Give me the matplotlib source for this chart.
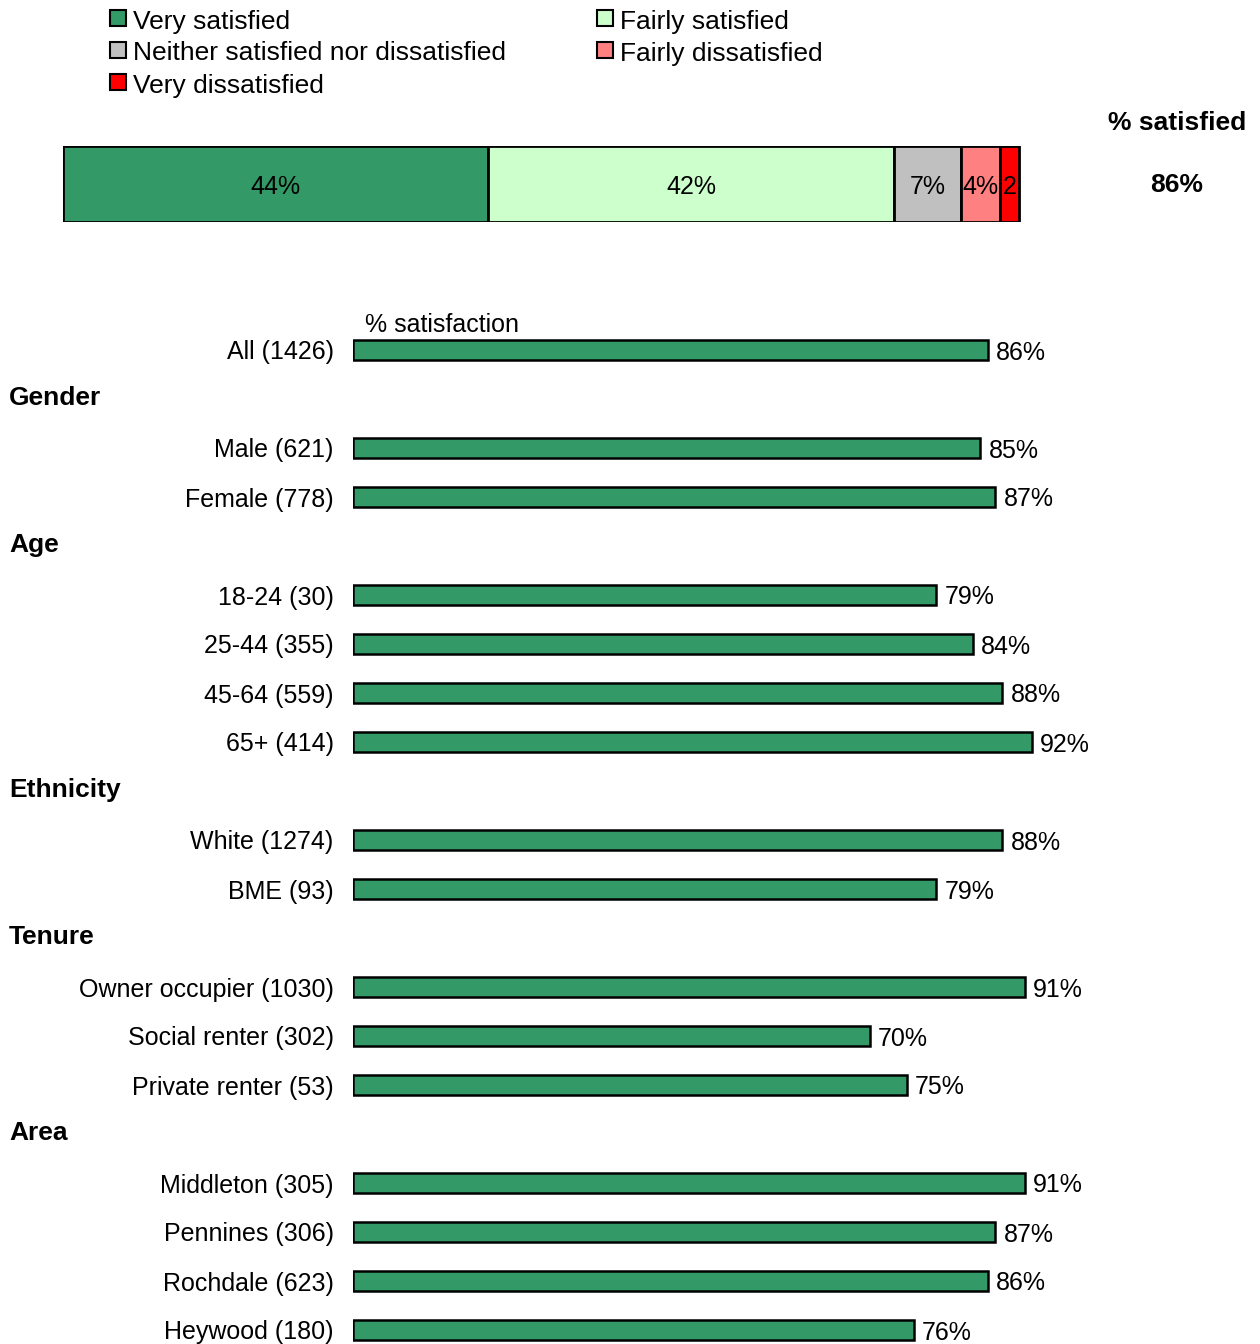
import matplotlib.pyplot as plt
from matplotlib.patches import Rectangle

plt.rcParams['font.family'] = ['Liberation Sans', 'DejaVu Sans']

# overall satisfaction breakdown
levels = ['Very satisfied', 'Fairly satisfied', 'Neither satisfied nor dissatisfied',
          'Fairly dissatisfied', 'Very dissatisfied']
level_vals = [44, 42, 7, 4, 2]
level_text = ['44%', '42%', '7%', '4%', '2']
level_cols = ['#339966', '#CCFFCC', '#C0C0C0', '#FF8080', '#FF0000']
pct_satisfied = 86

# % satisfaction by group
groups = ['All (1426)', 'Gender', 'Male (621)', 'Female (778)',
          'Age', '18-24 (30)', '25-44 (355)', '45-64 (559)', '65+ (414)',
          'Ethnicity', 'White (1274)', 'BME (93)',
          'Tenure', 'Owner occupier (1030)', 'Social renter (302)', 'Private renter (53)',
          'Area', 'Middleton (305)', 'Pennines (306)', 'Rochdale (623)', 'Heywood (180)']
sat = [86, None, 85, 87,
       None, 79, 84, 88, 92,
       None, 88, 79,
       None, 91, 70, 75,
       None, 91, 87, 86, 76]

W, H = 1260, 1344
fig = plt.figure(figsize=(W / 100, H / 100), dpi=100)

def px(x0, y0, x1, y1):
    return [x0 / W, 1 - y1 / H, (x1 - x0) / W, (y1 - y0) / H]

# legend, laid out in two columns
leg_pos = [(110, 18), (597, 18), (110, 50), (597, 50), (110, 82)]
for (lx, ly), name, col in zip(leg_pos, levels, level_cols):
    fig.add_artist(Rectangle((lx / W, 1 - (ly + 8) / H), 16 / W, 16 / H,
                             facecolor=col, edgecolor='black', lw=1.5,
                             transform=fig.transFigure))
    fig.text((lx + 23) / W, 1 - (ly + 1) / H, name, fontsize=19,
             va='center_baseline', ha='left')

# stacked bar
ax1 = fig.add_axes(px(63, 146, 1029, 222))
left = 0
for v, t, c in zip(level_vals, level_text, level_cols):
    ax1.barh(0, v, left=left, height=1, color=c, edgecolor='black', lw=2)
    ax1.text(left + v / 2, 0, t, ha='center', va='center_baseline', fontsize=18)
    left += v
ax1.set_xlim(0, 100)
ax1.set_ylim(-0.5, 0.5)
ax1.axis('off')

fig.text(1177 / W, 1 - 121 / H, '% satisfied', ha='center', va='center_baseline',
         fontsize=19, fontweight='bold')
fig.text(1177 / W, 1 - 183 / H, f'{pct_satisfied}%', ha='center', va='center_baseline',
         fontsize=19, fontweight='bold')

# group bars
ax2 = fig.add_axes(px(353, 330, 1091, 1344))
rows = list(range(len(groups)))
for r, g, v in zip(rows, groups, sat):
    if v is None:
        ax2.text(-344 / 7.38, r - 0.08, g, ha='left', va='center_baseline',
                 fontsize=19, fontweight='bold')
        continue
    ax2.barh(r, v, height=20 / 49, color='#339966', edgecolor='black', lw=1.8)
    ax2.annotate(f'{v}%', (v, r), xytext=(6, 0), textcoords='offset points',
                 ha='left', va='center_baseline', fontsize=18)
    ax2.annotate(g, (0, r), xytext=(-14, 0), textcoords='offset points',
                 ha='right', va='center_baseline', fontsize=18)
ax2.set_xlim(0, 100)
ax2.set_ylim(994 / 49, -20 / 49)
ax2.axis('off')

fig.text(365 / W, 1 - 322 / H, '% satisfaction', ha='left', va='center_baseline', fontsize=18)

fig.savefig('out.png', dpi=100)
